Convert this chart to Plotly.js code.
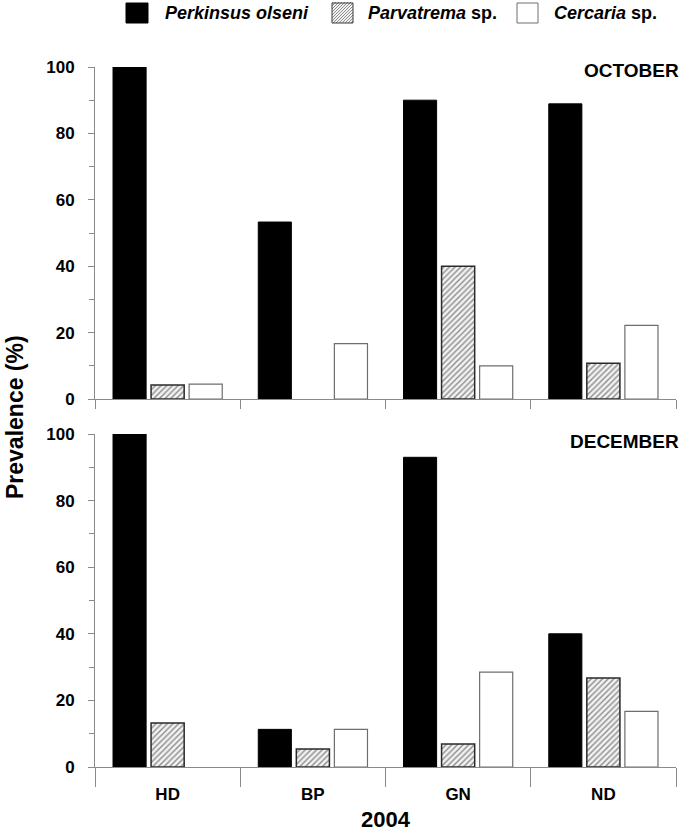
<!DOCTYPE html>
<html>
<head>
<meta charset="utf-8">
<script src="https://cdn.plot.ly/plotly-3.0.1.min.js"></script>
<style>html,body{margin:0;padding:0;background:#fff;}</style>
</head>
<body>
<div id="chart" style="width:685px;height:832px;"></div>
<script>
// ---- Data ----
const sites = ['HD', 'BP', 'GN', 'ND'];
const seriesNames = ['Perkinsus olseni', 'Parvatrema sp.', 'Cercaria sp.'];
const octPerkinsus = [100, 53.3, 90, 88.9];
const octParvatrema = [4.2, 0, 40, 10.8];
const octCercaria = [4.5, 16.7, 10, 22.2];
const decPerkinsus = [100, 11.3, 93, 40];
const decParvatrema = [13.2, 5.4, 6.9, 26.7];
const decCercaria = [0, 11.3, 28.5, 16.7];
const panelLabels = ['OCTOBER', 'DECEMBER'];
const xTitle = '2004';
const yTitle = 'Prevalence (%)';

// ---- Layout helpers (pixel -> paper) ----
const W = 685, H = 832;
const mL = 95, mR = 9, mT = 67, mB = 65;
const pw = W - mL - mR, ph = H - mT - mB;
const px = x => (x - mL) / pw;
const py = y => (H - mB - y) / ph;

const FONT = 'Arial, "Liberation Sans", sans-serif';
const axisGray = '#8a8a8a';

const styles = [
  {color: '#000000', lineColor: '#000000', lineWidth: 1},
  {color: '#ffffff', lineColor: '#2a2a2a', lineWidth: 1.5,
   pattern: {shape: '/', fgcolor: '#8c8c8c', bgcolor: '#f2f2f2', size: 4, solidity: 0.35}},
  {color: '#ffffff', lineColor: '#6e6e6e', lineWidth: 1.2}
];

function mk(vals, i, xa, ya) {
  const s = styles[i];
  const marker = {color: s.color,
    line: {color: s.lineColor, width: vals.map(v => (v > 0 ? s.lineWidth : 0))}};
  if (s.pattern) marker.pattern = s.pattern;
  return {type: 'bar', x: sites, y: vals, name: seriesNames[i],
    xaxis: xa, yaxis: ya, showlegend: false, hoverinfo: 'x+y', marker: marker};
}

const data = [
  mk(octPerkinsus, 0, 'x', 'y'), mk(octParvatrema, 1, 'x', 'y'), mk(octCercaria, 2, 'x', 'y'),
  mk(decPerkinsus, 0, 'x2', 'y2'), mk(decParvatrema, 1, 'x2', 'y2'), mk(decCercaria, 2, 'x2', 'y2')
];

const yBase = {
  range: [0, 100], dtick: 20, tick0: 0, showgrid: false, zeroline: false,
  showline: true, linecolor: axisGray, linewidth: 1,
  ticks: 'outside', ticklen: 6, tickcolor: axisGray, tickwidth: 1,
  ticklabelstandoff: 10,
  minor: {dtick: 10, ticks: 'outside', ticklen: 5, tickcolor: axisGray, showgrid: false},
  tickfont: {family: FONT, size: 17, color: '#000', weight: 'bold'},
  fixedrange: true
};
const xBase = {
  type: 'category', showgrid: false, zeroline: false,
  showline: true, linecolor: axisGray, linewidth: 1,
  ticks: 'outside', tickson: 'boundaries', tickcolor: axisGray, tickwidth: 1,
  tickfont: {family: FONT, size: 17, color: '#000', weight: 'bold'},
  fixedrange: true
};

// ---- Legend drawn with shapes + annotations ----
const legY0 = 3, legY1 = 23, legYc = 13;
const boxes = [[126, 148], [332, 353], [517, 538]];
const textX = [163, 366, 552];
const shapes = [];
shapes.push({type: 'rect', xref: 'paper', yref: 'paper', x0: px(boxes[0][0]), x1: px(boxes[0][1]),
  y0: py(legY1), y1: py(legY0), fillcolor: '#000', line: {color: '#000', width: 1}});
shapes.push({type: 'rect', xref: 'paper', yref: 'paper', x0: px(boxes[1][0]), x1: px(boxes[1][1]),
  y0: py(legY1), y1: py(legY0), fillcolor: '#f2f2f2', line: {width: 0}});
// hatching for legend box
(function () {
  const x0 = boxes[1][0], x1 = boxes[1][1], s = x1 - x0;
  const ybot = legY1;
  let path = '';
  for (let c = -s + 2; c < s; c += 3) {
    const ua = Math.max(0, -c), ub = Math.min(s, s - c);
    if (ub <= ua) continue;
    path += 'M' + px(x0 + ua) + ',' + py(ybot - (ua + c)) + 'L' + px(x0 + ub) + ',' + py(ybot - (ub + c));
  }
  shapes.push({type: 'path', xref: 'paper', yref: 'paper', path: path, line: {color: '#8c8c8c', width: 1}});
})();
shapes.push({type: 'rect', xref: 'paper', yref: 'paper', x0: px(boxes[1][0]), x1: px(boxes[1][1]),
  y0: py(legY1), y1: py(legY0), fillcolor: 'rgba(0,0,0,0)', line: {color: '#3a3a3a', width: 1}});
shapes.push({type: 'rect', xref: 'paper', yref: 'paper', x0: px(boxes[2][0]), x1: px(boxes[2][1]),
  y0: py(legY1), y1: py(legY0), fillcolor: '#fff', line: {color: '#6e6e6e', width: 1}});

const legFont = {family: FONT, size: 18, color: '#000', weight: 'bold'};
const legendTexts = ['<i>Perkinsus olseni</i>', '<i>Parvatrema</i> sp.', '<i>Cercaria</i> sp.'];
const annotations = legendTexts.map((t, i) => ({
  xref: 'paper', yref: 'paper', x: px(textX[i]), y: py(legYc), xanchor: 'left', yanchor: 'middle',
  text: t, showarrow: false, font: legFont
}));
annotations.push({xref: 'paper', yref: 'paper', x: px(681), y: py(70), xanchor: 'right', yanchor: 'middle',
  text: panelLabels[0], showarrow: false, font: {family: FONT, size: 19, color: '#000', weight: 'bold'}});
annotations.push({xref: 'paper', yref: 'paper', x: px(681), y: py(441), xanchor: 'right', yanchor: 'middle',
  text: panelLabels[1], showarrow: false, font: {family: FONT, size: 19, color: '#000', weight: 'bold'}});
annotations.push({xref: 'paper', yref: 'paper', x: px(15), y: py(417), xanchor: 'center', yanchor: 'middle',
  textangle: -90, text: yTitle, showarrow: false, font: {family: FONT, size: 23, color: '#000', weight: 'bold'}});
annotations.push({xref: 'paper', yref: 'paper', x: px(385.5), y: py(820), xanchor: 'center', yanchor: 'middle',
  text: xTitle, showarrow: false, font: {family: FONT, size: 22, color: '#000', weight: 'bold'}});

const layout = {
  width: W, height: H,
  margin: {l: mL, r: mR, t: mT, b: mB, pad: 0},
  paper_bgcolor: '#fff', plot_bgcolor: '#fff',
  barmode: 'group', bargap: 0.214, bargroupgap: 0.13,
  showlegend: false,
  font: {family: FONT, color: '#000'},
  xaxis: Object.assign({}, xBase, {anchor: 'y', domain: [0, 1], ticklen: 9, showticklabels: false}),
  yaxis: Object.assign({}, yBase, {anchor: 'x', domain: [py(399), py(67)]}),
  xaxis2: Object.assign({}, xBase, {anchor: 'y2', domain: [0, 1], ticklen: 19, ticklabelstandoff: 12}),
  yaxis2: Object.assign({}, yBase, {anchor: 'x2', domain: [py(767), py(434)]}),
  shapes: shapes,
  annotations: annotations
};

Plotly.newPlot('chart', data, layout, {displayModeBar: false, staticPlot: true});
</script>
</body>
</html>
